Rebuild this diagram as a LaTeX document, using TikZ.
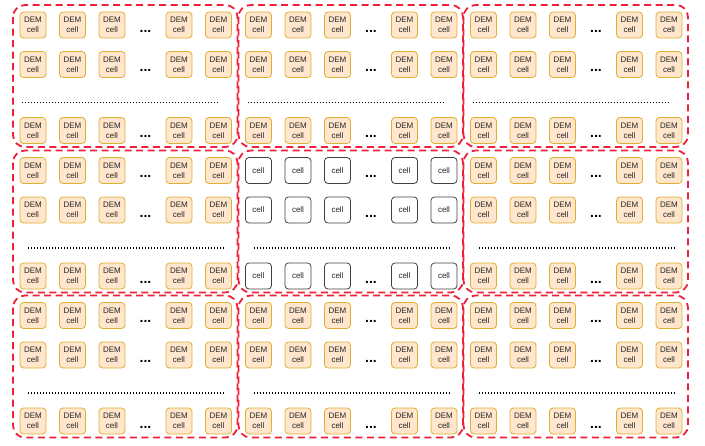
\documentclass[tikz,border=0pt]{standalone}
\usepackage{fontspec}
\setmainfont{Liberation Sans}
\definecolor{demfill}{HTML}{FFE6CC}
\definecolor{demdraw}{HTML}{D79B00}
\definecolor{reddash}{HTML}{F0203A}
\begin{document}
\begin{tikzpicture}[x=1pt,y=-1pt,
  dem/.style={draw=demdraw!80, fill=demfill, rounded corners=3.5pt, minimum size=26pt, inner sep=0pt, align=center, text=black!85, font=\fontsize{8}{10}\selectfont, line width=0.8pt},
  plain/.style={draw=black!75, fill=white, rounded corners=3.5pt, minimum size=26pt, inner sep=0pt, align=center, text=black!85, font=\fontsize{8}{10}\selectfont, line width=0.8pt},
  blockbox/.style={draw=reddash, line width=1.8pt, dash pattern=on 7pt off 4.5pt, rounded corners=12pt},
  dotrow/.style={line width=1.5pt, dash pattern=on 1.4pt off 1.6pt},
  ell/.style={font=\bfseries\fontsize{14}{14}\selectfont, inner sep=0pt, anchor=base}
]
\useasboundingbox (0,0) rectangle (705,445);
\foreach \bx/\ox in {0/0,1/225.5,2/450.5}{
 \foreach \by/\oy in {0/0,1/145.5,2/290.5}{
  \ifnum\bx\by=11 \def\cst{plain}\def\ctxt{cell}\else\def\cst{dem}\def\ctxt{DEM\\cell}\fi
  \foreach \r/\ry in {1/25,2/64.5,3/130.5}{
   \foreach \c/\cx in {1/33,2/72.5,3/112,4/179,5/218.5}{
    \node[\cst] (c-\bx-\by-\r-\c) at ({\cx+\ox},{\ry+\oy}) {\ctxt};
   }
   \node[ell] (e-\bx-\by-\r) at ({145.5+\ox},{\ry+\oy+7}) {...};
  }
  \ifnum\by=0
   \draw[dotrow] ({22+\ox},{102.5+\oy}) -- ({218+\ox},{102.5+\oy});
  \else
   \draw[dotrow] ({28+\ox},{102.5+\oy}) -- ({224.5+\ox},{102.5+\oy});
  \fi
  \draw[blockbox] ({13+\ox},{5+\oy}) rectangle ({237.5+\ox},{147+\oy});
 }}
\end{tikzpicture}
\end{document}
